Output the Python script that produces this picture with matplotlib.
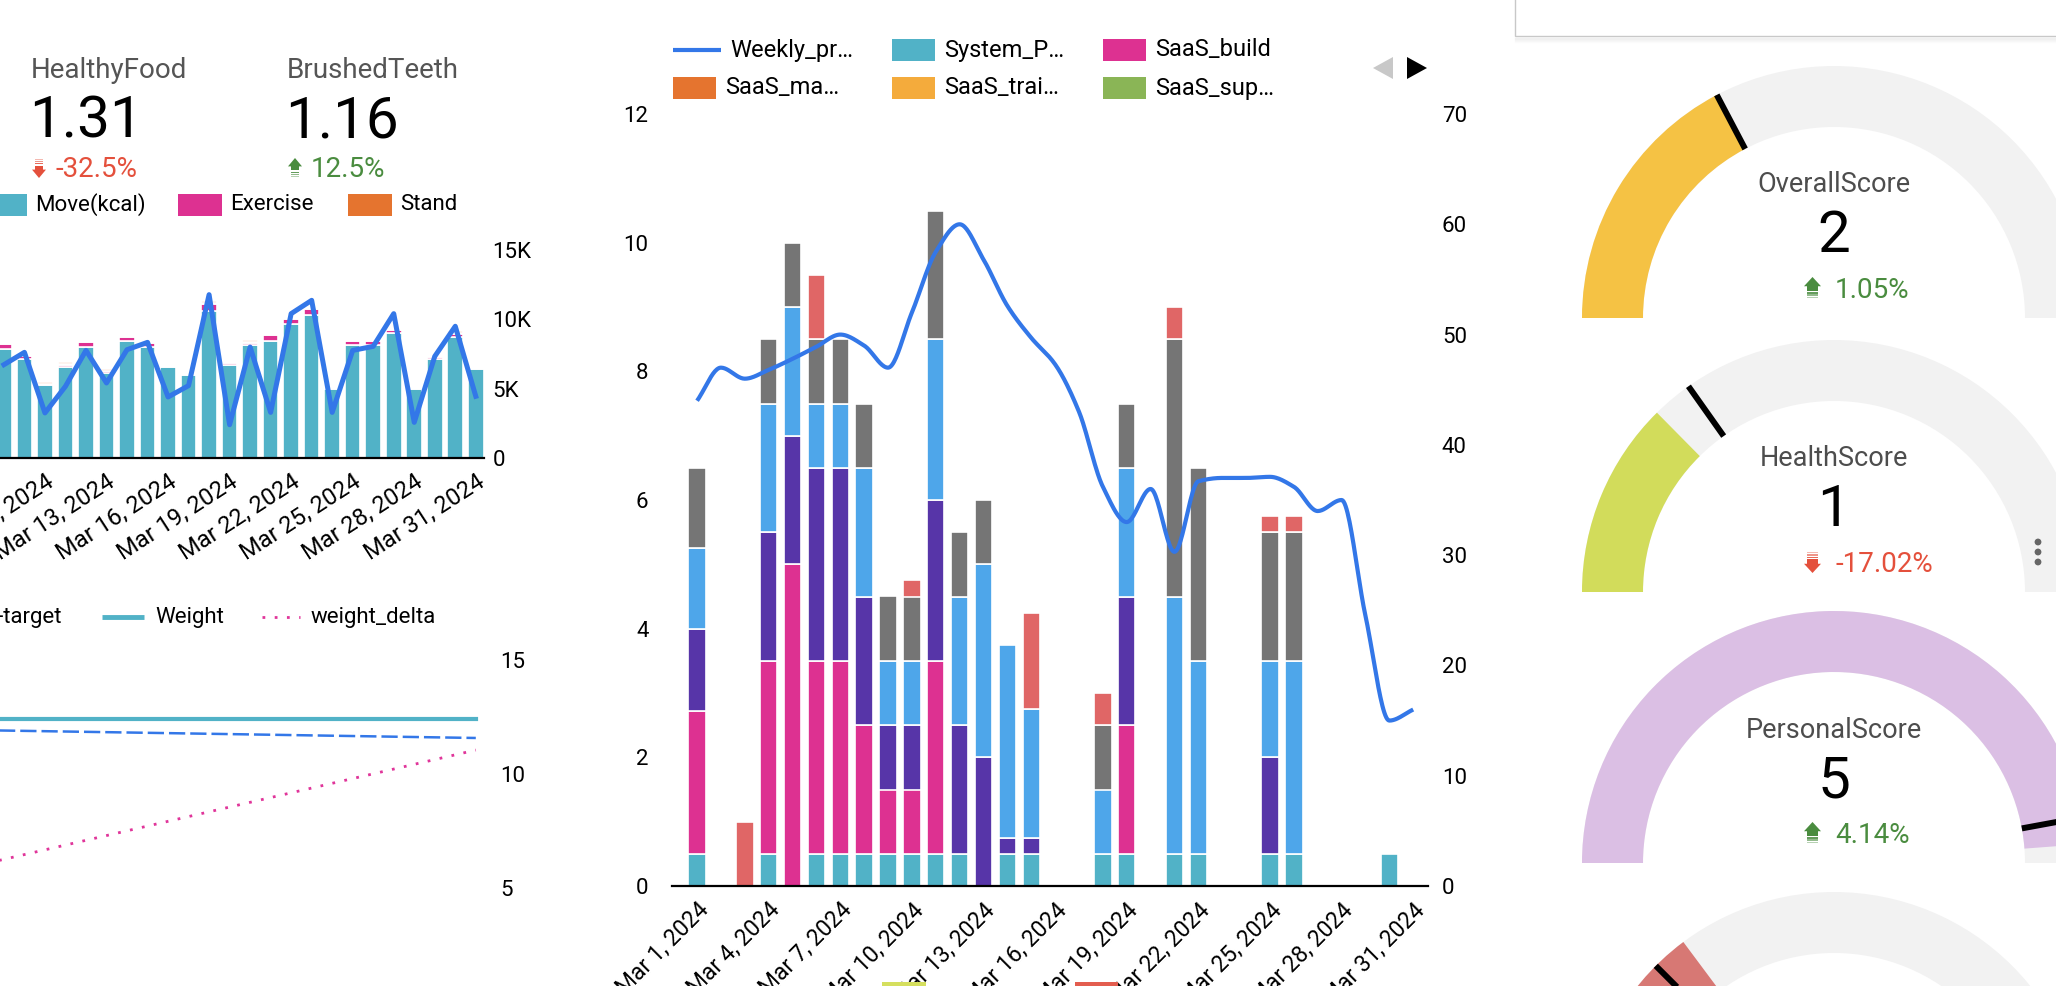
import numpy as np
import matplotlib.pyplot as plt
from matplotlib.patches import Rectangle, Wedge, Polygon, Circle

plt.rcParams['font.family'] = ['Roboto', 'DejaVu Sans']

W, H = 2056, 986

# ---------------- middle chart: project hours per day, March 2024 ----------------
days = np.arange(31)  # Mar 1 .. Mar 31
date_ticks = list(range(0, 31, 3))
date_labels = ['Mar %d, 2024' % (d + 1) for d in date_ticks]

system_p = [0.5, 0, 0, 0.5, 0, 0.5, 0.5, 0.5, 0.5, 0.5, 0.5, 0.5, 0, 0.5, 0.5, 0,
            0, 0.5, 0.5, 0, 0.5, 0.5, 0, 0, 0.5, 0.5, 0, 0, 0, 0.5, 0]
saas_build = [2.22, 0, 0, 3.0, 5.0, 3.0, 3.0, 2.0, 1.0, 1.0, 3.0, 0, 0, 0, 0, 0,
              0, 0, 2.0, 0, 0, 0, 0, 0, 0, 0, 0, 0, 0, 0, 0]
saas_ma = [0] * 31
saas_trai = [0] * 31
saas_sup = [0] * 31
purple_vals = [1.28, 0, 0, 2.0, 2.0, 3.0, 3.0, 2.0, 1.0, 1.0, 2.5, 2.0, 2.0, 0.25, 0.25, 0,
               0, 0, 2.0, 0, 0, 0, 0, 0, 1.5, 0, 0, 0, 0, 0, 0]
blue_vals = [1.25, 0, 0, 2.0, 2.0, 1.0, 1.0, 2.0, 1.0, 1.0, 2.5, 2.0, 3.0, 3.0, 2.0, 0,
             0, 1.0, 2.0, 0, 4.0, 3.0, 0, 0, 1.5, 3.0, 0, 0, 0, 0, 0]
gray_vals = [1.25, 0, 0, 1.0, 1.0, 1.0, 1.0, 1.0, 1.0, 1.0, 2.0, 1.0, 1.0, 0, 0, 0,
             0, 1.0, 1.0, 0, 4.0, 3.0, 0, 0, 2.0, 2.0, 0, 0, 0, 0, 0]
red_vals = [0, 0, 1.0, 0, 0, 1.0, 0, 0, 0, 0.25, 0, 0, 0, 0, 1.5, 0,
            0, 0.5, 0, 0, 0.5, 0, 0, 0, 0.25, 0.25, 0, 0, 0, 0, 0]
weekly_pr = [44, 47, 46, 46.8, 47.8, 48.9, 50, 49, 47, 52, 57.5, 60, 56.8, 52.6, 49.7, 47.3,
             43, 36.2, 33, 36, 30.3, 36.7, 37, 37, 37.1, 36.2, 34, 35, 24.5, 15, 16]

# ---------------- top-left chart: activity rings, Mar 8 .. Mar 31 ----------------
tl_days = np.arange(7, 31)
tl_ticks = list(range(9, 31, 3))
tl_labels = ['Mar %d, 2024' % (d + 1) for d in tl_ticks]
move_kcal = [7.86, 7.14, 5.26, 6.56, 8.0, 6.13, 8.41, 8.0, 6.56, 5.99, 10.58, 6.71,
             8.15, 8.41, 9.69, 10.29, 4.98, 8.15, 8.15, 9.01, 4.98, 7.14, 8.73, 6.42]
exercise = [0.35, 0.2, 0.05, 0.17, 0.35, 0.12, 0.3, 0.3, 0.1, 0.05, 0.55, 0.15,
            0.17, 0.45, 0.35, 0.45, 0.1, 0.3, 0.3, 0.2, 0.06, 0.12, 0.22, 0.1]
stand = [0.06] * 24
stand_extra = [0.1, 0.08, 0.08, 0.1, 0.12, 0.1, 0.12, 0.1, 0.08, 0.08, 0.12, 0.1,
               0.1, 0.12, 0.1, 0.12, 0.08, 0.1, 0.1, 0.1, 0.06, 0.1, 0.12, 0.08]
steps_line = [6.73, 7.62, 3.25, 5.17, 7.76, 5.41, 7.81, 8.34, 4.4, 5.22, 11.78, 2.4,
              8.0, 3.29, 10.41, 11.37, 3.29, 7.76, 8.05, 10.41, 2.57, 7.33, 9.5, 4.45]

# ---------------- bottom-left chart: weight ----------------
bl_days = [6, 30]
weight = [12.43, 12.43]
weight_target = [11.92, 11.58]
weight_delta = [6.05, 11.05]

# ---------------- gauges ----------------
gauge_names = ['OverallScore', 'HealthScore', 'PersonalScore', '']
gauge_values = ['2', '1', '5', '']
gauge_deltas = ['1.05%', '-17.02%', '4.14%', '']
gauge_up = [True, False, True, True]
gauge_fill = [0.346, 0.252, 0.976, 0.296]
gauge_target = [0.346, 0.304, 0.942, 0.25]
gauge_colors = ['#f5c244', '#d2dc5b', '#dbbfe4', '#d77874']
gauge_cy = [318, 592, 863, 1144]

TEAL, PINK, ORANGE, YELLOW, GREEN = '#51b2c7', '#dd3191', '#e5742f', '#f4ab3c', '#8ab556'
PURPLE, BLUE, GRAY, RED = '#5735a8', '#4ea6ea', '#757575', '#e06666'
LINE_BLUE = '#3377e8'
UP_GREEN, DOWN_RED = '#4a8c3f', '#e4503c'


def px_axes(fig, left, top, right, bottom):
    return fig.add_axes([left / W, 1 - bottom / H, (right - left) / W, (bottom - top) / H])


def monotone_curve(x, y, n=24):
    # monotone cubic drawing of the series (same look as the dashboard's smooth line)
    x = np.asarray(x, float)
    y = np.asarray(y, float)
    h = np.diff(x)
    d = np.diff(y) / h
    m = np.zeros_like(y)
    m[0], m[-1] = d[0], d[-1]
    for i in range(1, len(y) - 1):
        if d[i - 1] * d[i] > 0:
            m[i] = 2 / (1 / d[i - 1] + 1 / d[i])
    xs, ys = [], []
    t = np.linspace(0, 1, n, endpoint=False)
    for i in range(len(x) - 1):
        h00 = 2 * t**3 - 3 * t**2 + 1
        h10 = t**3 - 2 * t**2 + t
        h01 = -2 * t**3 + 3 * t**2
        h11 = t**3 - t**2
        xs.append(x[i] + t * h[i])
        ys.append(h00 * y[i] + h10 * h[i] * m[i] + h01 * y[i + 1] + h11 * h[i] * m[i + 1])
    xs.append([x[-1]])
    ys.append([y[-1]])
    return np.concatenate(xs), np.concatenate(ys)


def stacked_bars(ax, x, series, width):
    bottom = np.zeros(len(x))
    for vals, col in series:
        vals = np.asarray(vals, float)
        keep = vals > 0
        ax.bar(np.asarray(x)[keep], vals[keep], width=width, bottom=bottom[keep],
               color=col, edgecolor='white', linewidth=1.2, zorder=2)
        bottom += vals


def clean(ax):
    for s in ax.spines.values():
        s.set_visible(False)


fig = plt.figure(figsize=(W / 100, H / 100), dpi=100)
fig.patch.set_facecolor('white')

# ---- middle chart ----
ax = px_axes(fig, 672, 114, 1428, 886)
stacked_bars(ax, days, [(system_p, TEAL), (saas_build, PINK), (saas_ma, ORANGE),
                        (saas_trai, YELLOW), (saas_sup, GREEN), (purple_vals, PURPLE),
                        (blue_vals, BLUE), (gray_vals, GRAY), (red_vals, RED)], 0.73)
clean(ax)
ax.spines['bottom'].set_visible(True)
ax.spines['bottom'].set_linewidth(1.6)
ax.spines['bottom'].set_zorder(5)
ax.set_xlim(-1.05, 30.62)
ax.set_ylim(0, 12)
ax.set_yticks(range(0, 13, 2))
ax.set_xticks(date_ticks)
ax.set_xticklabels(date_labels, rotation=45, ha='right', rotation_mode='anchor')
ax.tick_params(axis='y', length=0, pad=17, labelsize=16)
ax.tick_params(axis='x', length=0, pad=9, labelsize=16.5)

ax2 = ax.twinx()
clean(ax2)
ax2.set_ylim(0, 70)
ax2.set_yticks(range(0, 71, 10))
ax2.tick_params(axis='y', length=0, pad=10, labelsize=16)
cx, cyv = monotone_curve(days, weekly_pr)
ax2.plot(cx, cyv, color=LINE_BLUE, lw=3, solid_capstyle='butt')

# ---- top-left chart ----
ax3 = px_axes(fig, -152, 250, 484, 458)
stacked_bars(ax3, tl_days, [(move_kcal, TEAL), (exercise, PINK), (stand, ORANGE),
                            (stand_extra, '#f5b99b')], 0.76)
ax3.plot(tl_days, steps_line, color=LINE_BLUE, lw=3.6, zorder=4)
clean(ax3)
ax3.spines['bottom'].set_visible(True)
ax3.spines['bottom'].set_linewidth(1.6)
ax3.spines['bottom'].set_zorder(5)
ax3.set_xlim(-0.6, 30.4)
ax3.set_ylim(0, 15)
ax3.yaxis.tick_right()
ax3.set_yticks([0, 5, 10, 15])
ax3.set_yticklabels(['0', '5K', '10K', '15K'])
ax3.set_xticks(tl_ticks)
ax3.set_xticklabels(tl_labels, rotation=33, ha='right', rotation_mode='anchor')
ax3.tick_params(axis='y', length=0, pad=6, labelsize=16)
ax3.tick_params(axis='x', length=0, pad=9, labelsize=17)

# ---- bottom-left chart ----
ax4 = px_axes(fig, -152, 660, 484, 1002)
ax4.plot(bl_days, weight, color=TEAL, lw=3)
ax4.plot(bl_days, weight_target, color=LINE_BLUE, lw=1.8, linestyle=(0, (6.5, 2)))
ax4.plot(bl_days, weight_delta, color='#e0359a', lw=2, linestyle=(0, (1, 3.4)))
clean(ax4)
ax4.set_xlim(-0.6, 30.4)
ax4.set_ylim(0, 15)
ax4.yaxis.tick_right()
ax4.set_yticks([5, 10, 15])
ax4.set_xticks([])
ax4.tick_params(axis='y', length=0, pad=12, labelsize=16)

# ---- overlay in pixel coordinates (y down) ----
ov = fig.add_axes([0, 0, 1, 1], zorder=10)
ov.set_xlim(0, W)
ov.set_ylim(H, 0)
ov.axis('off')
ov.patch.set_alpha(0)


def trend_arrow(x, y, w, h, up, color):
    # small arrow icon with fading stripes; x, y = top-left corner
    def Y(u):
        return y + u * h if up else y + (1 - u) * h
    ov.add_patch(Polygon([(x, Y(0.42)), (x + w / 2, Y(0)), (x + w, Y(0.42))], closed=True, color=color, lw=0))
    ov.add_patch(Polygon([(x + w * 0.2, Y(0.41)), (x + w * 0.8, Y(0.41)), (x + w * 0.8, Y(0.62)),
                          (x + w * 0.2, Y(0.62))], closed=True, color=color, lw=0))
    for k, a in enumerate([0.85, 0.6, 0.4]):
        u0 = 0.68 + k * 0.11
        ov.add_patch(Polygon([(x + w * 0.2, Y(u0)), (x + w * 0.8, Y(u0)), (x + w * 0.8, Y(u0 + 0.07)),
                              (x + w * 0.2, Y(u0 + 0.07))], closed=True, color=color, alpha=a, lw=0))


# scorecards
for x0, name, val, delta, up in [(31, 'HealthyFood', '1.31', '-32.5%', False),
                                  (287, 'BrushedTeeth', '1.16', '12.5%', True)]:
    col = UP_GREEN if up else DOWN_RED
    ov.text(x0, 78, name, fontsize=20, color='#555555', va='baseline')
    ov.text(x0 - 2, 138, val, fontsize=42, color='black', va='baseline')
    trend_arrow(x0 + 1, 158, 14, 20, up, col)
    ov.text(x0 + 24, 177, delta, fontsize=20, color=col, va='baseline')

# top-left legend
for x0, label, col in [(-17, 'Move(kcal)', TEAL), (178, 'Exercise', PINK), (348, 'Stand', ORANGE)]:
    ov.add_patch(Rectangle((x0, 194), 44, 22, color=col, lw=0))
    ov.text(x0 + 52, 205, label, fontsize=16, va='center')

# bottom-left legend
ov.text(62, 617, 'loss-target', fontsize=16, va='center', ha='right')
ov.plot([102, 144], [617, 617], color=TEAL, lw=3.5, solid_capstyle='butt')
ov.text(155, 617, 'Weight', fontsize=16, va='center')
ov.plot([262, 300], [617, 617], color='#e0359a', lw=2, linestyle=(0, (1, 3.4)))
ov.text(311, 617, 'weight_delta', fontsize=16, va='center')

# middle legend
ov.plot([673, 721], [50, 50], color=LINE_BLUE, lw=3, solid_capstyle='butt')
ov.text(730, 50, 'Weekly_pr\u2026', fontsize=17, va='center')
for x0, y0, label, col in [(892, 50, 'System_P\u2026', TEAL), (1103, 50, 'SaaS_build', PINK),
                           (673, 88, 'SaaS_ma\u2026', ORANGE), (892, 88, 'SaaS_trai\u2026', YELLOW),
                           (1103, 88, 'SaaS_sup\u2026', GREEN)]:
    ov.add_patch(Rectangle((x0, y0 - 11), 43, 22, color=col, lw=0))
    ov.text(x0 + 52, y0, label, fontsize=17, va='center')
ov.add_patch(Polygon([(1373, 68), (1393, 57), (1393, 79)], closed=True, color='#c8c8c8', lw=0))
ov.add_patch(Polygon([(1427, 68), (1407, 57), (1407, 79)], closed=True, color='black', lw=0))

# pieces of the next chart's legend peeking in at the bottom
ov.add_patch(Rectangle((882, 982), 44, 6, color='#d5df5e', lw=0))
ov.add_patch(Rectangle((1075, 982), 43, 6, color='#e35d4f', lw=0))

# top-right card
ov.add_patch(Rectangle((1515, -20), 600, 56, facecolor='white', edgecolor='#c8c8c8', lw=1))
for k in range(1, 6):
    ov.plot([1515, W], [36.5 + k, 36.5 + k], color='black', alpha=0.05 * (6 - k) / 5, lw=1)

# gauges
GX, R_OUT, R_IN = 1834, 252, 191
for i in range(4):
    cy = gauge_cy[i]
    ov.add_patch(Wedge((GX, cy), R_OUT, 180, 360, width=R_OUT - R_IN, color='#f2f2f2', lw=0))
    ov.add_patch(Wedge((GX, cy), R_OUT, 180, 180 + 180 * gauge_fill[i], width=R_OUT - R_IN,
                       color=gauge_colors[i], lw=0))
    a = np.radians(180 - 180 * gauge_target[i])
    ov.plot([GX + R_IN * np.cos(a), GX + R_OUT * np.cos(a)],
            [cy - R_IN * np.sin(a), cy - R_OUT * np.sin(a)], color='black', lw=4.3, solid_capstyle='butt')
    if gauge_names[i]:
        col = UP_GREEN if gauge_up[i] else DOWN_RED
        ov.text(GX, cy - 133, gauge_names[i], fontsize=19.5, color='#4d4d4d', ha='center', va='center')
        ov.text(GX, cy - 66, gauge_values[i], fontsize=42, color='black', ha='center', va='baseline')
        trend_arrow(1804, cy - 41, 17, 22, gauge_up[i], col)
        ov.text(1835, cy - 20, gauge_deltas[i], fontsize=20, color=col, va='baseline')

# kebab menu dots
for yy in (542, 552, 562):
    ov.add_patch(Circle((2038, yy), 3.4, color='#666666', lw=0))

fig.savefig('out.png', dpi=100)
